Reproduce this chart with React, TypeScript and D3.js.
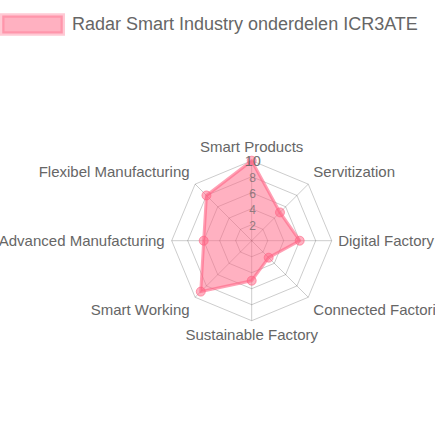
import { useEffect, useRef } from 'react'
import * as d3 from 'd3'

const labels = [
  'Smart Products',
  'Servitization',
  'Digital Factory',
  'Connected Factories',
  'Sustainable Factory',
  'Smart Working',
  'Advanced Manufacturing',
  'Flexibel Manufacturing',
]
const values = [10, 5, 6, 3, 5, 9, 6, 8]
const ticks = [2, 4, 6, 8, 10]
const seriesName = 'Radar Smart Industry onderdelen ICR3ATE'

const W = 435, H = 435
const FONT = '"Liberation Sans", Arial, Helvetica, sans-serif'

export default function App() {
  const svgRef = useRef<SVGSVGElement>(null)

  useEffect(() => {
    const svg = d3.select(svgRef.current)
    svg.selectAll('*').remove()
    svg.attr('width', W).attr('height', H)

    const cx = 251.7, cy = 240.7, R = 80
    const rSc = d3.scaleLinear().domain([0, 10]).range([0, R])
    const n = labels.length
    const ang = (i: number) => (i / n) * Math.PI * 2 - Math.PI / 2
    const pt = (i: number, r: number): [number, number] => [cx + Math.cos(ang(i)) * r, cy + Math.sin(ang(i)) * r]

    // legend
    const lg = svg.append('g')
    lg.append('rect').attr('x', 2.25).attr('y', 15.5).attr('width', 60.5).attr('height', 18)
      .attr('fill', 'rgba(255,99,132,0.5)').attr('stroke', 'rgba(255,99,132,0.35)').attr('stroke-width', 4.5)
    lg.append('text').attr('x', 72).attr('y', 29.5).attr('fill', '#666').attr('font-size', '18px')
      .attr('font-family', FONT).text(seriesName)

    const g = svg.append('g')

    // grid rings
    ticks.forEach(t => {
      const ring = d3.range(n).map(i => pt(i, rSc(t)))
      g.append('path').attr('d', d3.line()(ring) + 'Z').attr('fill', 'none')
        .attr('stroke', 'rgba(0,0,0,0.2)').attr('stroke-width', 1)
    })
    // angle lines
    d3.range(n).forEach(i => {
      const [x, y] = pt(i, R)
      g.append('line').attr('x1', cx).attr('y1', cy).attr('x2', x).attr('y2', y)
        .attr('stroke', 'rgba(0,0,0,0.2)').attr('stroke-width', 1)
    })

    // point labels
    labels.forEach((lbl, i) => {
      const [x, y] = pt(i, R + 5)
      const deg = (i / n) * 360
      let anchor = 'middle', dx = 0
      if (deg > 0 && deg < 180) { anchor = 'start'; dx = 1.5 }
      else if (deg > 180) { anchor = 'end'; dx = -2 }
      let dy: number
      if (deg === 90 || deg === 270) dy = 5.3
      else if (deg > 270 || deg < 90) dy = -3.9
      else dy = 14.5
      g.append('text').attr('x', x + dx).attr('y', y + dy).attr('text-anchor', anchor)
        .attr('fill', '#666').attr('font-size', '15px').attr('font-family', FONT).text(lbl)
    })

    // dataset
    const pts = values.map((v, i) => pt(i, rSc(v)))
    g.append('path').attr('d', d3.line()(pts) + 'Z')
      .attr('fill', 'rgba(255,99,132,0.5)').attr('stroke', 'rgba(255,99,132,0.6)')
      .attr('stroke-width', 3).attr('stroke-linejoin', 'round')
    pts.forEach(([x, y]) => {
      g.append('circle').attr('cx', x).attr('cy', y).attr('r', 4.5)
        .attr('fill', 'rgba(255,99,132,0.5)').attr('stroke', 'rgba(255,99,132,0.6)').attr('stroke-width', 1)
    })

    // tick labels
    ticks.forEach(t => {
      const big = t === 10
      g.append('text').attr('x', cx + 1).attr('y', cy - rSc(t) + (big ? 5.3 : 5))
        .attr('text-anchor', 'middle').attr('fill', '#666').attr('opacity', big ? 0.9 : 0.7)
        .attr('font-size', big ? '14.5px' : '12px').attr('font-family', FONT).text(t)
    })
  }, [])

  return (
    <div style={{ position: 'absolute', left: 0, top: 0, width: W, height: H, overflow: 'hidden', background: '#fff' }}>
      <svg ref={svgRef} style={{ display: 'block' }} />
    </div>
  )
}
